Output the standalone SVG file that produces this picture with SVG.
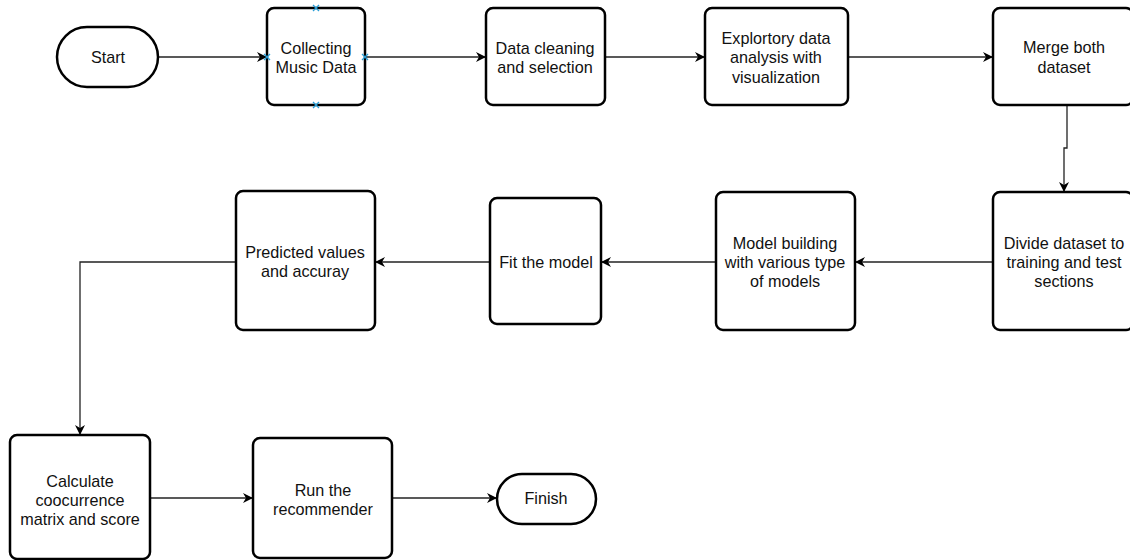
<svg xmlns="http://www.w3.org/2000/svg" width="1130" height="560" viewBox="0 0 1130 560">
  <style>
    .box { fill: #ffffff; stroke: #000000; stroke-width: 2.5; }
    .lbl { font-family: "Liberation Sans", Arial, sans-serif; font-size: 16.2px; fill: #111111; text-anchor: middle; dominant-baseline: central; }
    .edge { fill: none; stroke: #222222; stroke-width: 1.3; }
    .handle { stroke: #2a9fd8; stroke-width: 1.3; fill: none; }
  </style>
  <defs>
    <marker id="arrow" viewBox="0 0 10 10" refX="9" refY="5" markerWidth="10" markerHeight="10" markerUnits="userSpaceOnUse" orient="auto">
      <path d="M0,0 L10,5 L0,10 L3,5 Z" fill="#000000"/>
    </marker>
  </defs>
  <rect width="1130" height="560" fill="#ffffff"/>

  <!-- connectors -->
  <g id="connectors">
    <path class="edge" d="M158,57 H266" marker-end="url(#arrow)"/>
    <path class="edge" d="M365,57 H485" marker-end="url(#arrow)"/>
    <path class="edge" d="M605,57 H704" marker-end="url(#arrow)"/>
    <path class="edge" d="M848,57 H992" marker-end="url(#arrow)"/>
    <path class="edge" d="M1067,105 V148 H1064 V191" marker-end="url(#arrow)"/>
    <path class="edge" d="M993,262 H856" marker-end="url(#arrow)"/>
    <path class="edge" d="M716,262 H602" marker-end="url(#arrow)"/>
    <path class="edge" d="M490,262 H376" marker-end="url(#arrow)"/>
    <path class="edge" d="M236,262 H80 V434" marker-end="url(#arrow)"/>
    <path class="edge" d="M150,498 H252" marker-end="url(#arrow)"/>
    <path class="edge" d="M392,498 H496" marker-end="url(#arrow)"/>
  </g>

  <!-- nodes -->
  <g id="start">
    <rect class="box" x="57" y="27" width="101" height="60" rx="30" ry="30"/>
    <text class="lbl" x="108" y="57">Start</text>
  </g>
  <g id="collecting">
    <rect class="box" x="267" y="8" width="98" height="97" rx="7"/>
    <text class="lbl" x="316" y="48">Collecting</text>
    <text class="lbl" x="316" y="67">Music Data</text>
    <path class="handle" d="M313,5 l6,6 M319,5 l-6,6 M264,54 l6,6 M270,54 l-6,6 M362,54 l6,6 M368,54 l-6,6 M313,102 l6,6 M319,102 l-6,6"/>
  </g>
  <g id="cleaning">
    <rect class="box" x="486" y="8" width="119" height="97" rx="7"/>
    <text class="lbl" x="545" y="48">Data cleaning</text>
    <text class="lbl" x="545" y="67">and selection</text>
  </g>
  <g id="eda">
    <rect class="box" x="705" y="8" width="143" height="97" rx="7"/>
    <text class="lbl" x="776" y="38">Explortory data</text>
    <text class="lbl" x="776" y="57">analysis with</text>
    <text class="lbl" x="776" y="77">visualization</text>
  </g>
  <g id="merge">
    <rect class="box" x="993" y="8" width="140" height="97" rx="7"/>
    <text class="lbl" x="1064" y="47">Merge both</text>
    <text class="lbl" x="1064" y="67">dataset</text>
  </g>
  <g id="divide">
    <rect class="box" x="993" y="192" width="140" height="138" rx="7"/>
    <text class="lbl" x="1064" y="243">Divide dataset to</text>
    <text class="lbl" x="1064" y="262">training and test</text>
    <text class="lbl" x="1064" y="281">sections</text>
  </g>
  <g id="model">
    <rect class="box" x="716" y="192" width="139" height="138" rx="7"/>
    <text class="lbl" x="785" y="243">Model building</text>
    <text class="lbl" x="785" y="262">with various type</text>
    <text class="lbl" x="785" y="281">of models</text>
  </g>
  <g id="fit">
    <rect class="box" x="490" y="198" width="111" height="126" rx="7"/>
    <text class="lbl" x="546" y="262">Fit the model</text>
  </g>
  <g id="predicted">
    <rect class="box" x="236" y="191" width="139" height="139" rx="7"/>
    <text class="lbl" x="305" y="252">Predicted values</text>
    <text class="lbl" x="305" y="271">and accuray</text>
  </g>
  <g id="calculate">
    <rect class="box" x="10" y="435" width="140" height="124" rx="7"/>
    <text class="lbl" x="80" y="481">Calculate</text>
    <text class="lbl" x="80" y="500">coocurrence</text>
    <text class="lbl" x="80" y="519">matrix and score</text>
  </g>
  <g id="run">
    <rect class="box" x="253" y="438" width="139" height="120" rx="7"/>
    <text class="lbl" x="323" y="490">Run the</text>
    <text class="lbl" x="323" y="509">recommender</text>
  </g>
  <g id="finish">
    <rect class="box" x="497" y="474" width="99" height="50" rx="25" ry="25"/>
    <text class="lbl" x="546" y="498">Finish</text>
  </g>
</svg>
